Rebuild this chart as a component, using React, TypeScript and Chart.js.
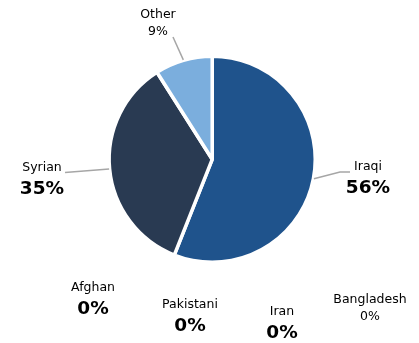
import React, { useEffect, useRef } from "react";
import { Chart, registerables } from "chart.js";

Chart.register(...registerables);

const categories = ["Iraqi", "Syrian", "Other", "Afghan", "Pakistani", "Iran", "Bangladesh"];
const shares = [56, 35, 9, 0, 0, 0, 0];
const percentLabels = ["56%", "35%", "9%", "0%", "0%", "0%", "0%"];
const boldPercent = [true, true, false, true, true, true, false];
const sliceColors = ["#1F538C", "#293A52", "#7BAEDD", "#4472C4", "#ED7D31", "#A5A5A5", "#FFC000"];

// label placement (text centre of the name line) - layout, not data
const labelPos = [
  { x: 368, y: 167 },
  { x: 42, y: 168 },
  { x: 158, y: 15 },
  { x: 93, y: 288 },
  { x: 190, y: 305 },
  { x: 282, y: 312 },
  { x: 370, y: 300 },
];
// leader end points (near label); null = no leader
const leaderEnds: ({ x: number; y: number; bend?: { x: number; y: number } } | null)[] = [
  { x: 350, y: 172, bend: { x: 340, y: 172 } },
  { x: 65, y: 172.5 },
  { x: 173, y: 37 },
  null,
  null,
  null,
  null,
];

const FONT = "'DejaVu Sans', Verdana, sans-serif";

const labelPlugin = {
  id: "sliceLabels",
  afterDraw(chart: any) {
    const ctx = chart.ctx;
    const meta = chart.getDatasetMeta(0);
    ctx.save();
    ctx.strokeStyle = "#A6A6A6";
    ctx.lineWidth = 1.5;
    meta.data.forEach((arc: any, i: number) => {
      const end = leaderEnds[i];
      if (!end || shares[i] === 0) return;
      const mid = (arc.startAngle + arc.endAngle) / 2;
      const r = arc.outerRadius + 0.5;
      const sx = arc.x + Math.cos(mid) * r;
      const sy = arc.y + Math.sin(mid) * r;
      ctx.beginPath();
      ctx.moveTo(sx, sy);
      if (end.bend) ctx.lineTo(end.bend.x, end.bend.y);
      ctx.lineTo(end.x, end.y);
      ctx.stroke();
    });
    ctx.fillStyle = "#000";
    ctx.textAlign = "center";
    ctx.textBaseline = "middle";
    categories.forEach((name, i) => {
      const p = labelPos[i];
      ctx.font = `12.5px ${FONT}`;
      ctx.fillText(name, p.x, p.y);
      if (boldPercent[i]) {
        ctx.font = `bold 18.5px ${FONT}`;
        ctx.fillText(percentLabels[i], p.x, p.y + 21);
      } else {
        ctx.font = `12.5px ${FONT}`;
        ctx.fillText(percentLabels[i], p.x, p.y + 17);
      }
    });
    ctx.restore();
  },
};

export default function App() {
  const ref = useRef<HTMLCanvasElement | null>(null);
  useEffect(() => {
    if (!ref.current) return;
    const chart = new Chart(ref.current, {
      type: "pie",
      data: {
        labels: categories,
        datasets: [
          {
            data: shares,
            backgroundColor: sliceColors,
            borderColor: "#ffffff",
            borderWidth: 3.5,
          },
        ],
      },
      options: {
        responsive: false,
        animation: false,
        layout: { padding: { left: 107.4, top: 54.5, right: 419 - 107.4 - 209.6, bottom: 343 - 54.5 - 209.6 } },
        plugins: {
          legend: { display: false },
          tooltip: { enabled: false },
        },
      },
      plugins: [labelPlugin],
    });
    return () => chart.destroy();
  }, []);
  return (
    <div style={{ position: "fixed", left: 0, top: 0, width: 419, height: 343, background: "#fff" }}>
      <canvas ref={ref} width={419} height={343} />
    </div>
  );
}
